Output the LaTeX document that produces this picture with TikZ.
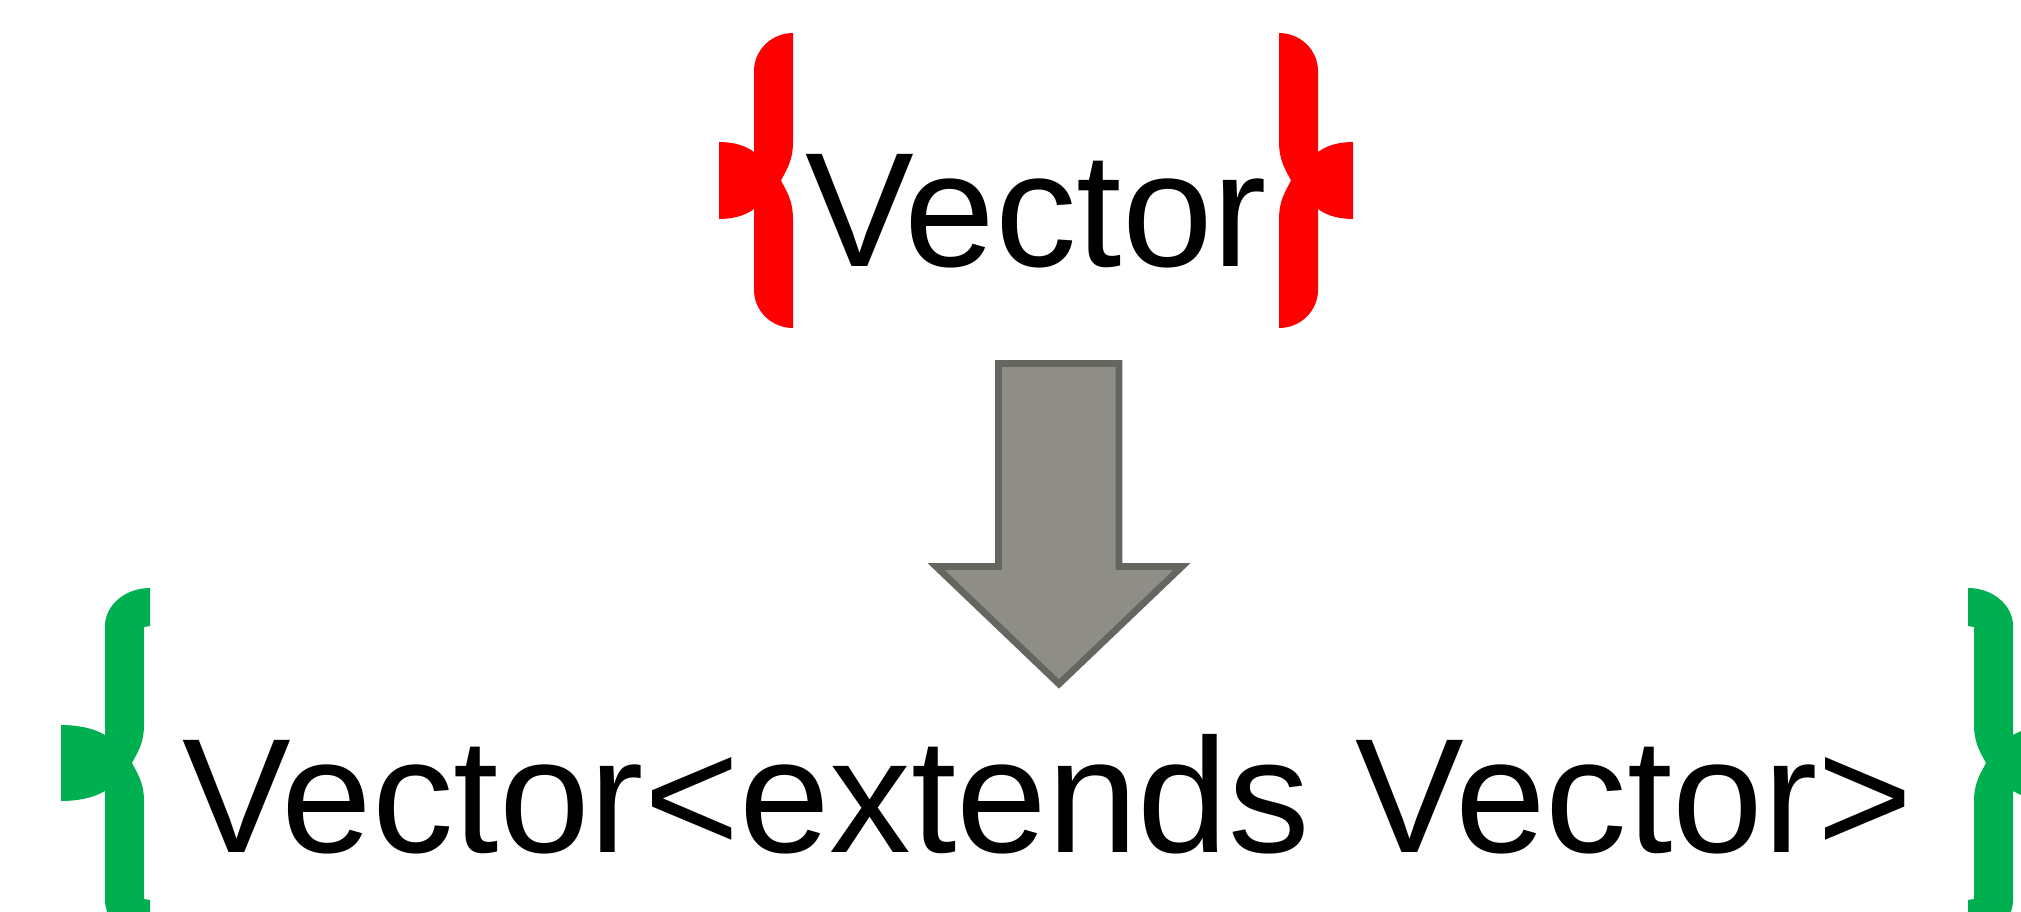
\documentclass[tikz,border=0pt]{standalone}
\usepackage{fontspec}
\setmainfont{Liberation Sans}
\definecolor{bracered}{RGB}{255,0,0}
\definecolor{bracegreen}{RGB}{0,176,80}
\definecolor{arrowfill}{RGB}{142,142,134}
\definecolor{arrowline}{RGB}{102,102,96}
% left curly brace outline: #1 colour, #2 bar left x, #3 bar right x, #4 top y, #5 bottom y, #6 tip x, #7 tip half height, #8 end overhang
\newcommand{\bracefill}[8]{%
  \pgfmathsetmacro\bM{(#4+#5)/2}%
  \pgfmathsetmacro\bry{#3-#2-1}%
  \pgfmathsetmacro\brx{#3+#8-#2}%
  \pgfmathsetmacro\bd{12}%
  \fill[#1]
   ({#3+#8},{#4}) -- ({#3+#8},{#4+\bry}) -- ({#3},{#4+\bry+1})
   -- ({#3},{\bM-#7})
   .. controls ({#3},{\bM-0.5*#7}) and ({#3-0.6*\bd},{\bM-0.25*#7}) .. ({#3-\bd},{\bM})
   .. controls ({#3-0.6*\bd},{\bM+0.25*#7}) and ({#3},{\bM+0.5*#7}) .. ({#3},{\bM+#7})
   -- ({#3},{#5-\bry-1}) -- ({#3+#8},{#5-\bry}) -- ({#3+#8},{#5})
   .. controls ({#2+0.45*\brx},{#5}) and ({#2},{#5-0.45*\bry}) .. ({#2},{#5-\bry})
   -- ({#2},{\bM+#7-10})
   .. controls ({#2-0.3*(#2-#6)},{\bM+#7-2}) and ({#6+0.3*(#2-#6)},{\bM+#7}) .. ({#6},{\bM+#7})
   -- ({#6},{\bM-#7})
   .. controls ({#6+0.3*(#2-#6)},{\bM-#7}) and ({#2-0.3*(#2-#6)},{\bM-#7+2}) .. ({#2},{\bM-#7+10})
   -- ({#2},{#4+\bry})
   .. controls ({#2},{#4+0.45*\bry}) and ({#2+0.45*\brx},{#4}) .. ({#3+#8},{#4}) -- cycle;%
}
\tikzset{
  txt/.style={inner sep=0pt, outer sep=0pt, anchor=base west, text=black, font=\fontsize{163}{163}\selectfont},
  bigarrow/.style={fill=arrowfill, draw=arrowline, line width=6.7pt, line join=miter}
}
\begin{document}
\begin{tikzpicture}[x=1pt, y=-1pt]
\path[use as bounding box] (0,0) rectangle (2021,911);
\clip (0,0) rectangle (2021,911);
% top braces (red)
\bracefill{bracered}{754}{793}{33}{328}{719}{38.5}{0}
\begin{scope}[xshift=2072pt, xscale=-1]
\bracefill{bracered}{754}{793}{33}{328}{719}{38.5}{0}
\end{scope}
% bottom braces (green)
\bracefill{bracegreen}{105}{144}{588}{938}{61}{38}{6}
\begin{scope}[xshift=2118pt, xscale=-1]
\bracefill{bracegreen}{105}{144}{588}{938}{61}{38}{6}
\end{scope}
% texts
\node[txt] (toptext) at (805,266) {Vector};
\node[txt] (bottomtext) at (182,852) {Vector<extends Vector>};
% block arrow
\draw[bigarrow] (998.5,363.5) -- (1119,363.5) -- (1119,566.5) -- (1182,566.5)
  -- (1059,684) -- (936,566.5) -- (998.5,566.5) -- cycle;
\end{tikzpicture}
\end{document}
